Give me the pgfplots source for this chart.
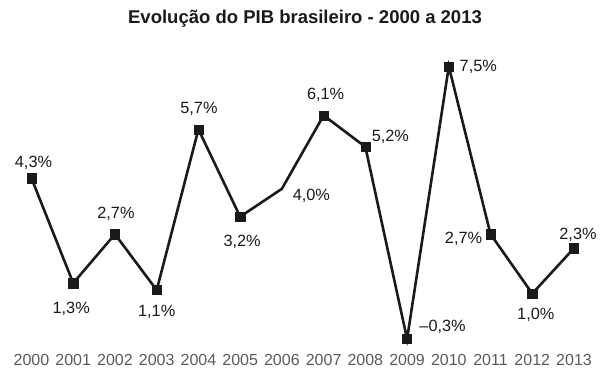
\documentclass[border=0pt]{standalone}
\usepackage{fontspec}
\setmainfont{Liberation Sans}
\usepackage{pgfplots}
\usepackage{pgfplotstable}
\pgfplotsset{compat=1.18}
\definecolor{linec}{HTML}{1A1A1A}
\definecolor{tickc}{HTML}{5A5A5A}
\pgfplotstableread{
x y lab dx dy
0 4.3 {4,3} 2 16.6
1 1.3 {1,3} -2 -24.5
2 2.7 {2,7} 1 21.7
3 1.1 {1,1} 0 -21
4 5.7 {5,7} 0.5 22
5 3.2 {3,2} 2 -24
6 4.0 {4,0} 29.5 -6
7 6.1 {6,1} 2 21.5
8 5.2 {5,2} 25 11.5
9 -0.3 {–0,3} 35.5 13.5
10 7.5 {7,5} 29.5 1
11 2.7 {2,7} -27 -4
12 1.0 {1,0} 3.5 -20.5
13 2.3 {2,3} 4 14
}\pib
\begin{document}
\begin{tikzpicture}
\useasboundingbox (0,0) rectangle (609pt,380pt);
\node[anchor=base, inner sep=0pt, text=linec, font=\fontsize{18.5}{20}\selectfont\bfseries] at (305pt,356pt) {Evolução do PIB brasileiro - 2000 a 2013};
\begin{axis}[
  at={(31.5pt,41pt)}, anchor=south west,
  scale only axis, width=542.5pt, height=272.5pt,
  xmin=0, xmax=13, ymin=-0.3, ymax=7.5,
  axis line style={draw=none}, tick style={draw=none},
  ytick=\empty,
  xtick={0,...,13},
  xticklabels={2000,2001,2002,2003,2004,2005,2006,2007,2008,2009,2010,2011,2012,2013},
  xticklabel style={anchor=base, inner sep=0pt, yshift=-26.5pt, text=tickc, font=\fontsize{16}{18}\selectfont},
  clip=false,
]
\addplot[linec, line width=2.6pt, line join=miter, no markers,
  point meta=explicit symbolic,
  visualization depends on={\thisrow{dx} \as \dx},
  visualization depends on={\thisrow{dy} \as \dy},
  nodes near coords={\pgfplotspointmeta\%},
  nodes near coords style={anchor=base, inner sep=0pt, text=linec, font=\fontsize{16.3}{18}\selectfont, xshift=\dx pt, yshift=\dy pt-5.8pt},
] table[x=x, y=y, meta=lab] {\pib};
\addplot[only marks, mark=square*, mark size=4.6pt, linec, mark options={fill=linec, draw=linec},
  skip coords between index={6}{7}] table[x=x, y=y] {\pib};
\end{axis}
\end{tikzpicture}
\end{document}
